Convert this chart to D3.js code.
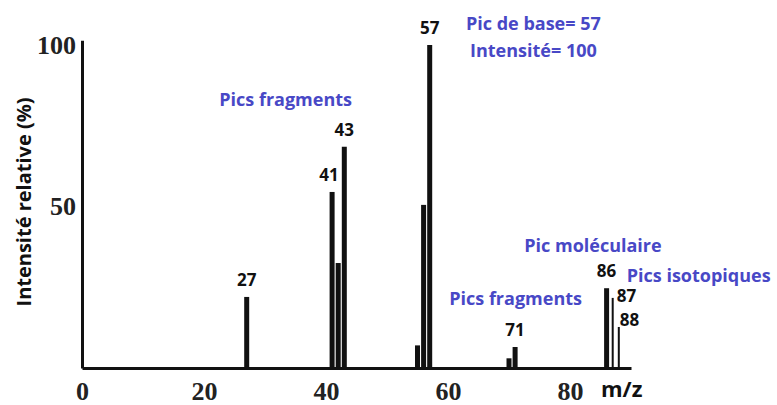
<!DOCTYPE html>
<html>
<head>
<meta charset="utf-8">
<script src="https://cdn.jsdelivr.net/npm/d3@7"></script>
<style>
	body { margin: 0; background: #fff; }
	#canvas { width: 777px; height: 405px; }
	.peak-label { font-family: 'Open Sans', sans-serif; font-weight: 700; font-size: 17px; fill: #111; }
	.note { font-family: 'Open Sans', sans-serif; font-weight: 700; font-size: 18px; fill: #4848c6; }
	.axis text { font-family: 'Liberation Serif', serif; font-weight: 700; font-size: 26px; fill: #222; }
	.axis path { stroke: #111; stroke-width: 3; }
</style>
</head>
<body>
<div id="canvas"></div>
<script>
// m/z of each peak and its relative intensity (%)
const mz        = [27, 41, 42, 43, 55, 56, 57, 70, 71, 86, 87, 88];
const intensity = [22, 54.5, 32.5, 68.5, 7, 50.5, 100, 3, 6.5, 24.7, 21.7, 12.7];
const labelled  = [27, 41, 43, 57, 71, 86];
const isotopes  = [87, 88];
const xTicks = [0, 20, 40, 60, 80];
const yTicks = [50, 100];

const W = 777, H = 405;

let svg = d3.select('#canvas').append('svg')
	.attr('width', W)
	.attr('height', H);

let x = d3.scaleLinear().domain([0, 90]).range([82, 631]);
let y = d3.scaleLinear().domain([0, 100]).range([368, 45]);

let peaks = mz.map((m, i) => ({mz: m, v: intensity[i]}));

// bars
svg.append('g').attr('class', 'peaks')
	.selectAll('rect').data(peaks)
	.enter().append('rect')
	.attr('x', d => x(d.mz) - (isotopes.includes(d.mz) ? 1 : 2.5))
	.attr('width', d => isotopes.includes(d.mz) ? 2 : 5)
	.attr('y', d => y(d.v))
	.attr('height', d => y(0) - y(d.v))
	.style('fill', '#111');

// axes (the y line runs a bit past 100, as in the scan)
let yAxisScale = y.copy().domain([0, 101.5]).range([368, y(101.5)]);
svg.append('g').attr('class', 'axis y')
	.attr('transform', 'translate(' + x(0) + ',0)')
	.call(d3.axisLeft(yAxisScale).tickValues(yTicks).tickSize(0).tickPadding(6));

svg.append('g').attr('class', 'axis x')
	.attr('transform', 'translate(0,' + y(0) + ')')
	.call(d3.axisBottom(x).tickValues(xTicks).tickSize(0).tickPadding(14));

// peak labels
svg.append('g').selectAll('text')
	.data(peaks.filter(d => labelled.includes(d.mz)))
	.enter().append('text')
	.attr('class', 'peak-label')
	.attr('text-anchor', 'middle')
	.attr('x', d => x(d.mz) - (d.mz == 41 ? 3 : 0))
	.attr('y', d => y(d.v) - 11)
	.text(d => d.mz);

svg.append('g').selectAll('text')
	.data(peaks.filter(d => isotopes.includes(d.mz)))
	.enter().append('text')
	.attr('class', 'peak-label')
	.attr('x', d => x(d.mz) + (d.mz == 87 ? 4 : 1))
	.attr('y', d => d.mz == 87 ? y(d.v) + 4 : y(d.v) - 1)
	.text(d => d.mz);

// annotations
const notes = [
	{t: 'Pic de base= 57', mz: 74, v: 104.6, a: 'middle'},
	{t: 'Intensité= 100', mz: 74, v: 96.3, a: 'middle'},
	{t: 'Pics fragments', mz: 22.5, v: 81.1, a: 'start'},
	{t: 'Pics fragments', mz: 60.2, v: 19.5, a: 'start'},
	{t: 'Pic moléculaire', mz: 72.5, v: 35.9, a: 'start'},
	{t: 'Pics isotopiques', mz: 89.3, v: 26.6, a: 'start'}
];

svg.append('g').selectAll('text').data(notes)
	.enter().append('text')
	.attr('class', 'note')
	.attr('text-anchor', d => d.a)
	.attr('x', d => x(d.mz))
	.attr('y', d => y(d.v))
	.text(d => d.t);

svg.append('text')
	.attr('x', 601)
	.attr('y', 397)
	.style('font-family', "'Open Sans', sans-serif")
	.style('font-weight', 700)
	.style('font-size', '22px')
	.style('fill', '#111')
	.text('m/z');

svg.append('text')
	.attr('transform', 'translate(31,202) rotate(-90)')
	.attr('text-anchor', 'middle')
	.style('font-family', "'Open Sans', sans-serif")
	.style('font-weight', 700)
	.style('font-size', '20px')
	.style('fill', '#111')
	.text('Intensité relative (%)');
</script>
</body>
</html>
